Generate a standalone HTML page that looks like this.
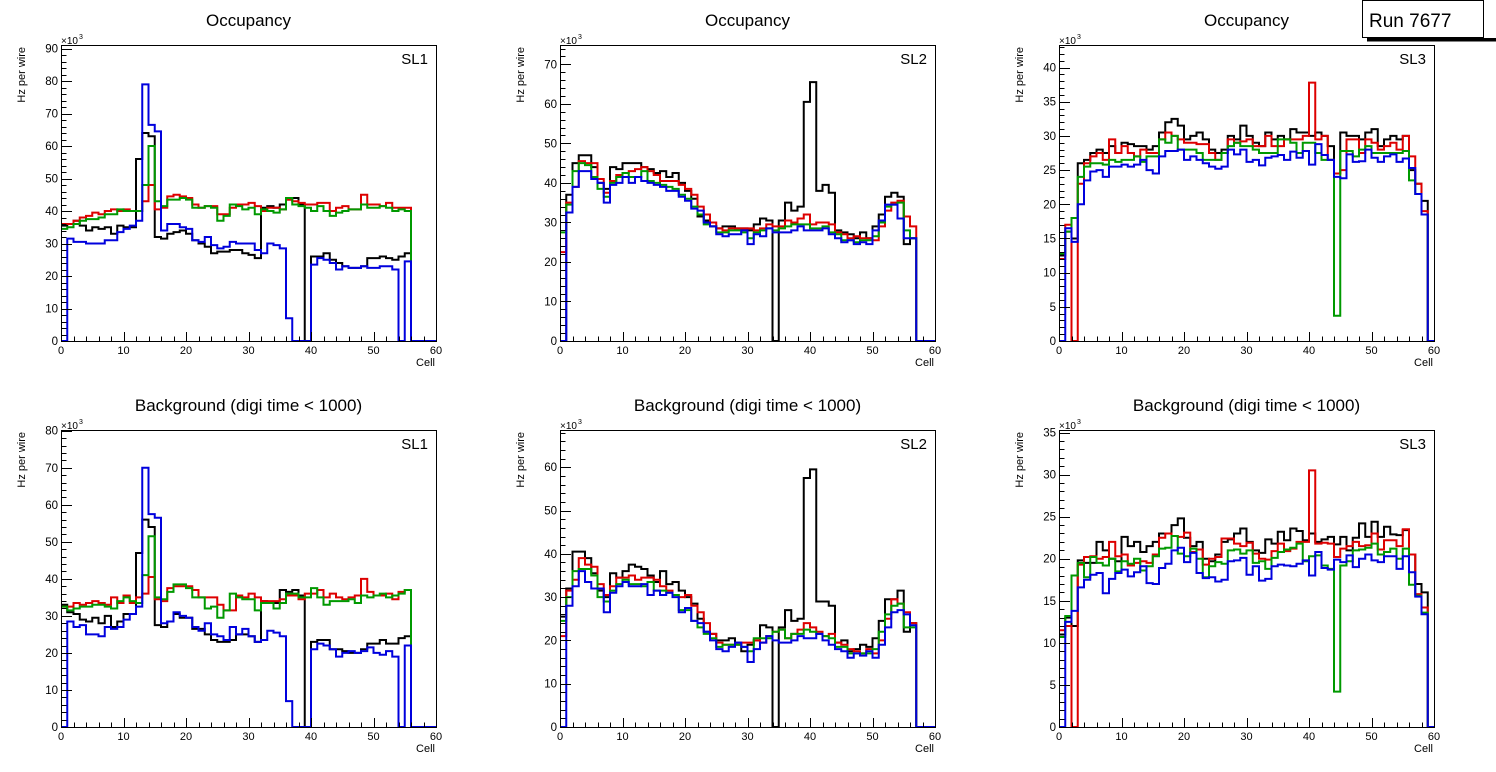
<!DOCTYPE html>
<html><head><meta charset="utf-8"><style>
html,body{margin:0;padding:0;background:#fff;}
svg{display:block;font-family:"Liberation Sans",sans-serif;}
</style></head><body>
<svg id="c" width="1496" height="772" viewBox="0 0 1496 772" xmlns="http://www.w3.org/2000/svg">
<g>
<rect x="1367" y="38" width="129" height="3.5" fill="#000"/>
<rect x="1362.5" y="0.5" width="121" height="37" fill="#fff" stroke="#000" stroke-width="1"/>
<text x="1369" y="27" font-size="19" fill="#000">Run 7677</text>
</g>
</svg>
<script>
// ---- data (k Hz per wire per cell) ----
const occSL1Black=[35.5,36,37,35.5,34,35,34.5,35,33,35.5,35,35,56,64,63,32,31.5,33,33.5,34,33,31,30,29,27,27.5,27.5,28,28,27,26.5,25.5,41,41.5,41,42,43.5,44,42,0,26,26,27,25,24,23,22.5,22.5,23,25.5,25.5,26,25.5,25,26,27];
const occSL1Red=[36,36,37,38,38.5,39.5,39,40,40.5,40,40.5,40,40,43,48,40.5,41,44.5,45,44.5,44,42,41,41.5,41.5,39,39,41,42,42,42.5,41.5,40,41,41,40.5,43.5,43,42.5,42,42,42.5,42.5,40,41,41.5,40.5,40.5,45,42,42,41.5,42.5,41,41,41];
const occSL1Green=[34.5,35,36,37,37.5,37.5,38,39,39,40.5,40,40,40,48,60,43,41.5,43.5,43.5,44,43.5,41,41,41.5,41,37,38.5,42,41.5,40.5,41,39,40.5,40,39.5,40.5,44,42,41.5,41,40,41.5,40,38.5,39.5,40,40.5,40.5,42,41,41,41.5,41,40,40.5,40];
const occSL1Blue=[0,31.5,30.5,30.5,30,30,30,31,31,33.5,34.5,35.5,37,79,66.5,64.5,34,36,36,35,34.5,31,30.5,32,29.5,28.5,29,30.5,30,30,30,28,27,30,29.5,28.5,7,0,0,0,23.5,25.5,25,24,22,23,22.5,22.5,23,22.5,22.5,23,23,22,0,24.5];

const occSL2Black=[0,37,45,47,47,44,40,38.5,44,43.5,45,45,45,44,43.5,42.5,43,41.5,42.5,40,38,36,31.5,30.5,29,28.5,29,29,28.5,28.5,28,29.5,31,30.5,0,30.5,35,33,34,60.5,65.5,38,39.5,37.5,28,27.5,27,26,27.5,26,29,32,36.5,37.5,36.5,24.5,26];
const occSL2Red=[22.5,35,39,45.5,45,45,41,37.5,40.5,42,42.5,43,43.5,44,43,42,40.5,40.5,40.5,39.5,38.5,37,34,32,30,28.5,28,28.5,28.5,28.5,28.5,28,28.5,29.5,29,29,30.5,30,31,32,29.5,30,30,29.5,27.5,27,26,26.5,26,26,25.5,29,33,35,35.5,31.5,29];
const occSL2Green=[27.5,34.5,43,45,44.5,41.5,38.5,36.5,40,41.5,42.5,41.5,41.5,43,40.5,40,39.5,39,38.5,37,36,34,32,29.5,29,27.5,27.5,28,28,27.5,26,27.5,28,28.5,28,28.5,29,29.5,29.5,29.5,28.5,28.5,29,27.5,27,25.5,25.5,25,25.5,25.5,26.5,30,34,34.5,35,28,26];
const occSL2Blue=[0,32.5,39,43,43,41,40,35,39.5,40,41.5,40,41.5,40.5,40,39.5,39,38,38,36.5,35.5,33.5,33,30,29,27,26.5,27,27,28,24.5,27,26.5,28.5,27.5,27.5,27.5,28,29,28,28,28,28.5,27,26,25,25.5,24.5,25,24.5,28,30.5,34.5,34.5,31,26,26];

const occSL3Black=[12.5,16,15,26,26.5,27.5,28,27.5,28.5,27.5,29,28.8,28.5,28.5,28,28.5,30.5,32,32.5,31.5,29.5,30,30.5,29.5,28,27.5,28,30,29.5,31.5,30,29,28.5,30.5,29.5,30,29.5,31,30.5,30.5,30,30.5,30,28.5,24.5,30.5,30,30,29.5,30.5,31,28.5,29.5,30,29.5,30,25,23,20.5];
const occSL3Red=[12,17,0,23,26,27,27.5,26.5,29.5,27.5,28.5,27.5,27,28,27.5,27.5,29.5,30.5,30,29.5,29,29,28.8,28.8,27.5,26.5,27.5,29.5,29,29.2,29.5,28.5,28.5,30,28.5,28.5,29.5,29.5,29.5,30,37.8,29.5,30,26.5,24.5,25,29.5,29.5,27.5,29.5,29,28,28.5,29,28,30,27,23,19];
const occSL3Green=[12.8,16,18,24,25.5,26,26,25.8,26.5,26.2,26.5,26.5,27,26.2,27,27,29.5,29,30,28,28,28,27.5,26.5,26.5,26.5,27.5,28.5,29,28.5,28.5,28,27.5,27.5,27.5,29.5,29.5,29,27.5,29,29,27.5,26.5,26.5,3.7,27.8,27.8,27,28,28.5,27.5,27.5,27.5,27.5,27.5,27.8,23.5,21.5,18.5];
const occSL3Blue=[0,16.5,14.5,20,23.5,24.8,25,24,25.5,25.5,25.8,25.5,25.8,26.5,25,24.5,27,27.8,27.8,28,26.5,27,26.5,26,25.5,25.2,25.5,28,27.3,28,26.2,26.5,25.7,26.8,27,27.2,26.5,27.7,26.8,27.8,25.8,28.8,27.2,26.5,24,23.8,27.3,26.2,26.3,28,26.8,26.2,27,27.3,26.2,26.7,25.3,21.5,18.5];

const bkgSL1Black=[33,31,30.5,29,28.5,29.5,28,30,27,28.5,30.5,30.5,47,56,54,27.5,27,28.5,30.5,29.5,29.5,26.5,26.5,25,23.5,23,23,23.5,25,25,24.5,23,34,33.5,33.5,37,36.5,37,35.5,0,23,23.5,23.5,21,21,20.5,20,20,21,22.5,22.5,23.5,22.5,22.5,24,24.5];
const bkgSL1Red=[32.5,32.5,33.5,33,33.5,34,33.5,33,35,33.5,35.5,33.5,35,36,40.5,34.5,34,37.5,38,38,38,37,35,35,35,33,31.5,31.5,35.5,35,36,35,34,34,34,34.5,35.5,35.5,34.5,36,36,37,35,36,35,34.5,35,35.5,40,36.5,35.5,35.5,36,34.5,36.5,37];
const bkgSL1Green=[32.5,31.5,32,32.5,32.5,33,33,32.5,32,34,35,34,33.5,41,51.5,35,34.5,36.5,38.5,38.5,37.5,35,35,32,32.5,29.5,31.5,36,35,34.5,34.5,31.5,33.5,33.5,32,33.5,36,36,35,35,37.5,35,33,34,34,34,34.5,33.5,35.5,35,35.5,36,35,35.5,36,37];
const bkgSL1Blue=[0,28.5,27,27.5,25,25,24.5,27,26.5,27,29,30.5,32.5,70,57.5,56.5,28,28.5,31,30,29.5,27,26,28,25,24.5,23.5,27,25,26.5,24.5,23,23.5,26,25.5,24.5,7,0,0,0,21,22.5,22,21,19,20,20.5,20,20.5,21.5,20,19.5,20.5,19,0,22];

const bkgSL2Black=[25.5,32,40.5,40.5,39,35.5,31.5,30,35.5,34.5,36,37.5,37,36.5,35,33.5,36,33,33.5,31.5,30,28.5,25,22,21.5,20,20,20.5,19.5,17.5,19,20,23.5,23,0,23,27,24.5,25,57.5,59.5,29,29,28,19.5,20,17.5,18,19,18.5,20.5,24.5,29.5,29.5,31.5,22,24];
const bkgSL2Red=[21,31.5,34,39,37.5,37,33,30.5,32.5,34.5,34.5,35,34,34.5,34.5,34,32.5,31.5,30.5,30,30.5,28,26.5,24,21.5,19.5,19,19,19,19.5,19.5,20,19.5,21,22,22.5,20.5,21.5,22.5,24,23,22,21,21.5,19.5,19,18,17.5,17,18,17,20,25,29.5,28.5,26.5,24];
const bkgSL2Green=[24.5,30,36,36.5,36.5,35,30,29,31.5,33,34,33,33,32.5,33.5,31.5,31.5,31,30.5,27,27,24.5,23,21.5,20.5,18.5,19,19,19,18.5,17.5,20.5,20.5,20.5,22,22.5,20.5,21.5,21.5,22.5,22,21.5,21,20.5,18.5,18.5,17,17,17,17,18,22,26,28,28.5,23,23];
const bkgSL2Blue=[0,28,32.5,36,33.5,32,32,26.5,31,32.5,33.5,32.5,32.5,33,30.5,31.5,30.5,31,30,26.5,27.5,24.5,24,22,20,18,17.5,18.5,19.5,18.5,15,18,19.5,21,20,19.5,19.5,20,21,20.5,20.5,21.5,20,19,18,17.5,16,17,16.5,17.5,16,19,23,26.5,27,26,23.5];

const bkgSL3Black=[11,13,12,19.8,19.5,19.5,22,21,20,19.7,22.6,21.5,22,20.8,21.5,22,23,23,24,24.8,22.5,21.5,22,20,19.7,20.5,22,22.3,23,23.6,22,21,20.7,22.3,21.8,23.2,22.2,23.6,23.3,22.2,23,22,22.3,22.6,21.7,22.6,21,22.5,24.2,22.6,24.4,22.6,23.8,22.9,22.8,23.4,20.5,17,16];
const bkgSL3Red=[11.5,12,0,19.3,20.2,20.3,20,20.2,22,20.3,20.5,19.2,19.5,19.7,19.5,20.5,22.5,23,22.7,22.6,23.1,20.8,21.1,19.3,20,20.2,22.4,22.4,21.8,21.5,21.9,20.6,20,19.9,20.9,21.8,20.9,21.2,22,22,30.5,21.8,21.9,21.8,20.2,21.2,21.5,22,21.5,21.6,23,21.1,22.2,22.2,21.5,23.5,20.5,15.8,14.2];
const bkgSL3Green=[10.7,13.2,18,19.5,17.8,20.2,19.5,19.2,20,18.5,19.7,19.4,20,18.6,19.1,20.3,21.2,21.3,22.7,20.6,20.3,21.2,20,17.8,19.1,19.6,19.4,21,21.1,20.6,21,19.5,19.7,18.8,20.1,20.8,21.1,21.3,21.8,19.7,20.3,20.4,19.2,18.8,4.2,19.2,19.7,21,21.1,21.3,21.8,20.5,20.8,21.2,20,21.2,16.9,15.6,13.6];
const bkgSL3Blue=[0,12.5,13.8,16.6,17.5,18.1,18.3,15.9,17.6,18.3,18.7,17.9,18.4,19.1,17.1,17,18.9,19.4,21,21.3,19.6,20.7,18.3,17.7,17.8,17.3,17.5,19.7,19.8,20.1,18.1,19.1,17.4,17.6,19.1,19.3,19.2,19.1,19.4,19.8,18,20.8,18.9,18.7,19.9,19.6,20.4,19,20,20.5,19.8,19.6,20.3,20.3,18.8,20.3,18.4,15.5,13.4];

const seriesColors=["#000000","#dd0000","#009900","#0000dd"];
const xTickLabels=["0","10","20","30","40","50","60"];

const panels=[
 {name:"occupancy-sl1",title:"Occupancy",sl:"SL1",x0:61,x1:436,yt:45,yb:341,ymax:91.1,ystep:10,yminor:5,series:[occSL1Black,occSL1Red,occSL1Green,occSL1Blue]},
 {name:"occupancy-sl2",title:"Occupancy",sl:"SL2",x0:560,x1:935,yt:45,yb:341,ymax:74.9,ystep:10,yminor:5,series:[occSL2Black,occSL2Red,occSL2Green,occSL2Blue]},
 {name:"occupancy-sl3",title:"Occupancy",sl:"SL3",x0:1059,x1:1434,yt:45,yb:341,ymax:43.3,ystep:5,yminor:5,series:[occSL3Black,occSL3Red,occSL3Green,occSL3Blue]},
 {name:"background-sl1",title:"Background (digi time < 1000)",sl:"SL1",x0:61,x1:436,yt:430,yb:727,ymax:80.2,ystep:10,yminor:5,series:[bkgSL1Black,bkgSL1Red,bkgSL1Green,bkgSL1Blue]},
 {name:"background-sl2",title:"Background (digi time < 1000)",sl:"SL2",x0:560,x1:935,yt:430,yb:727,ymax:68.6,ystep:10,yminor:5,series:[bkgSL2Black,bkgSL2Red,bkgSL2Green,bkgSL2Blue]},
 {name:"background-sl3",title:"Background (digi time < 1000)",sl:"SL3",x0:1059,x1:1434,yt:430,yb:727,ymax:35.3,ystep:5,yminor:5,series:[bkgSL3Black,bkgSL3Red,bkgSL3Green,bkgSL3Blue]}
];
const NS="http://www.w3.org/2000/svg";
const svg=document.getElementById("c");
const runBox=svg.firstElementChild;
function mk(tag,attrs,parent){const e=document.createElementNS(NS,tag);for(const k in attrs)e.setAttribute(k,attrs[k]);parent.appendChild(e);return e;}
const names=["black","red","green","blue"];
panels.forEach(p=>{
 const g=mk("g",{},svg);
 
 
 svg.insertBefore(g,runBox);
 const xs=v=>p.x0+(p.x1-p.x0)*v/60;
 const ys=v=>p.yb-(p.yb-p.yt)*Math.min(v,p.ymax)/p.ymax;
 const cx=(p.x0+p.x1)/2;
 const t=mk("text",{x:cx,y:p.yt-19,"font-size":"17","text-anchor":"middle",fill:"#000"},g);
 t.textContent=p.title;
 
 
 p.series.forEach((arr,si)=>{
  const v=[];for(let i=0;i<60;i++)v.push(i<arr.length?arr[i]:0);
  let d="M"+xs(0)+","+ys(v[0]);
  for(let i=0;i<60;i++){d+=" L"+xs(i)+","+ys(v[i])+" L"+xs(i+1)+","+ys(v[i]);}
  const path=mk("path",{d:d,fill:"none",stroke:seriesColors[si],"stroke-width":"2","stroke-linejoin":"miter"},g);
  
  
 });
 const fr=mk("rect",{x:p.x0+0.5,y:p.yt+0.5,width:p.x1-p.x0,height:p.yb-p.yt,fill:"none",stroke:"#000","stroke-width":"1"},g);
 
 
 for(let i=0;i<=60;i+=2){
  const len=i%10===0?9:4.5;const x=Math.round(xs(i))+0.5;
  mk("line",{x1:x,x2:x,y1:p.yb,y2:p.yb-len,stroke:"#000","stroke-width":"1"},g);
 }
 xTickLabels.forEach(l=>{
  const tl=mk("text",{x:xs(+l),y:p.yb+13,"font-size":"11","text-anchor":"middle",fill:"#000"},g);
  tl.textContent=l;
  
  
 });
 const xt=mk("text",{x:p.x1-1,y:p.yb+25,"font-size":"11","text-anchor":"end",fill:"#000"},g);
 xt.textContent="Cell";
 
 
 const minor=p.ystep/p.yminor;
 for(let k=0;k*minor<=p.ymax+1e-6;k++){
  const v=k*minor;const major=k%p.yminor===0;const y=Math.round(ys(v))+0.5;
  mk("line",{x1:p.x0,x2:p.x0+(major?11:5.5),y1:y,y2:y,stroke:"#000","stroke-width":"1"},g);
  if(major){
   const yl=mk("text",{x:p.x0-3,y:ys(v)+4,"font-size":"11.5","text-anchor":"end",fill:"#000"},g);
   yl.textContent=String(v);
   
   
  }
 }
 const ex=mk("text",{x:p.x0,y:p.yt-1,"font-size":"10",fill:"#000"},g);
 ex.textContent="×10";
 
 
 const ex3=mk("text",{x:p.x0+18,y:p.yt-6,"font-size":"7",fill:"#000"},g);
 ex3.textContent="3";
 
 
 const yt=mk("text",{x:0,y:0,"font-size":"11","text-anchor":"end",fill:"#000",transform:"translate("+(p.x0-36)+","+(p.yt+2)+") rotate(-90)"},g);
 yt.textContent="Hz per wire";
 
 
 const sl=mk("text",{x:p.x1-8,y:p.yt+19,"font-size":"15","text-anchor":"end",fill:"#000"},g);
 sl.textContent=p.sl;
 
 
});
</script>
</body></html>
